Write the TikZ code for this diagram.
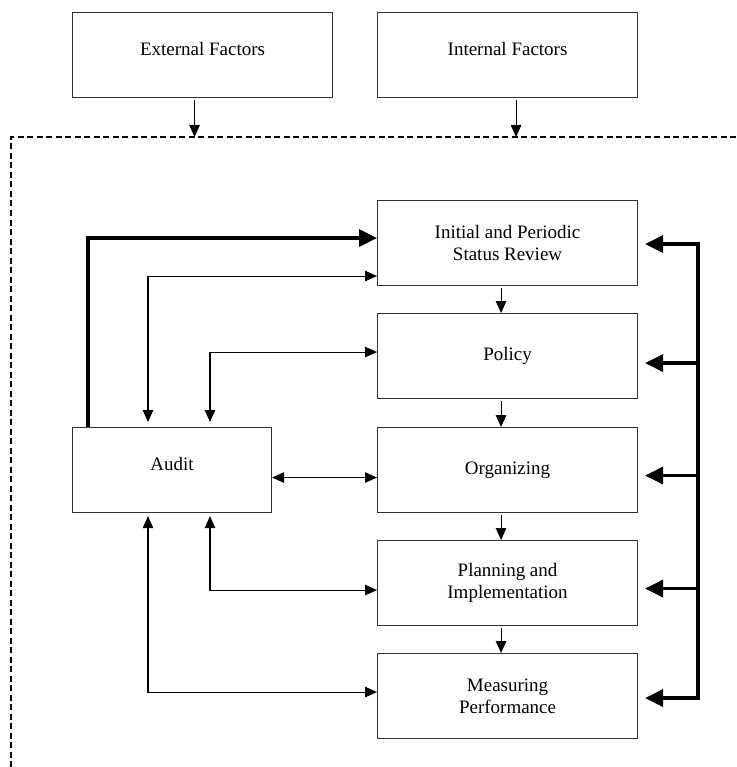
\documentclass[tikz,border=0pt]{standalone}
\usepackage{fontspec}
\setmainfont{Liberation Serif}
\usetikzlibrary{arrows.meta}
\begin{document}
\begin{tikzpicture}[x=1pt,y=-1pt,
  box/.style={draw=black!80, line width=1.1pt, align=center, inner sep=0pt,
    anchor=north west, font=\fontsize{19}{22.5}\selectfont},
  wide/.style={minimum width=260pt, minimum height=85pt},
  narrow/.style={minimum width=199pt, minimum height=85pt},
  raised/.style={text depth=12pt},
  thintip/.tip={Triangle[length=12pt,width=10.5pt]},
  heavytip/.tip={Triangle[length=18pt,width=17pt]},
  flow/.style={line width=1.1pt, -thintip},
  dbl/.style={line width=1.1pt, thintip-thintip},
  heavy/.style={line width=3.6pt, -heavytip},
  heavydbl/.style={line width=3.6pt, heavytip-heavytip},
  dashframe/.style={line width=1.8pt, dash pattern=on 6pt off 3.5pt}]
\useasboundingbox (0,0) rectangle (736,767);

% outside influences
\node[box, wide, raised] (ext) at (72,12) {External Factors};
\node[box, wide, raised] (int) at (377,12) {Internal Factors};

% boundary of the management system
\coordinate (frameTL) at (11,137);
\coordinate (frameTR) at (736,137);
\coordinate (frameBL) at (11,767);
\draw[dashframe] (frameTR) -- (frameTL) -- (frameBL);

% main cycle
\node[box, wide] (init) at (377,200) {Initial and Periodic\\Status Review};
\node[box, wide] (pol)  at (377,313) {Policy};
\node[box, wide] (org)  at (377,427) {Organizing};
\node[box, wide] (plan) at (377,540) {Planning and\\Implementation};
\node[box, wide] (meas) at (377,653) {Measuring\\Performance};
\node[box, narrow, raised] (audit) at (72,427) {Audit};

% inputs crossing the boundary
\path ([xshift=-8pt]ext.south) coordinate (extout);
\path ([xshift=8.5pt]int.south) coordinate (intout);
\draw[flow, shorten <=2pt] (extout) -- (extout |- frameTL);
\draw[flow, shorten <=2pt] (intout) -- (intout |- frameTL);

% sequence of steps
\draw[flow, shorten <=2pt] ([xshift=-6.5pt]init.south) -- ([xshift=-6.5pt]pol.north);
\draw[flow, shorten <=2pt] ([xshift=-6.5pt]pol.south)  -- ([xshift=-6.5pt]org.north);
\draw[flow, shorten <=2pt] ([xshift=-6.5pt]org.south)  -- ([xshift=-6.5pt]plan.north);
\draw[flow, shorten <=2pt] ([xshift=-6.5pt]plan.south) -- ([xshift=-6.5pt]meas.north);

% audit links
\draw[heavy] ([xshift=16pt]audit.north west) |- ([yshift=5pt]init.west);
\draw[dbl, shorten <=5pt] ([xshift=76pt]audit.north west) |- ([yshift=-33pt]init.west);
\draw[dbl, shorten <=5pt] ([xshift=138pt]audit.north west) |- ([yshift=4pt]pol.west);
\path ([yshift=-7.5pt]audit.east) coordinate (auditR);
\draw[dbl] (auditR) -- (auditR -| org.west);
\draw[dbl, shorten <=3pt] ([xshift=138pt]audit.south west) |- ([yshift=-7pt]plan.west);
\draw[dbl, shorten <=3pt] ([xshift=76pt]audit.south west) |- ([yshift=4pt]meas.west);

% feedback bus on the right
\coordinate (bus) at (698,470);
\draw[heavydbl, shorten <=7pt, shorten >=7pt]
  ([yshift=-1pt]init.east) -| (bus) |- ([yshift=-2pt]meas.east);
\path ([yshift=-7pt]pol.east) coordinate (polR);
\path ([yshift=-5.5pt]org.east) coordinate (orgR);
\path ([yshift=-5.5pt]plan.east) coordinate (planR);
\draw[heavy, shorten >=7pt] (polR -| bus) -- (polR);
\draw[heavy, shorten >=7pt] (orgR -| bus) -- (orgR);
\draw[heavy, shorten >=7pt] (planR -| bus) -- (planR);
\end{tikzpicture}
\end{document}
